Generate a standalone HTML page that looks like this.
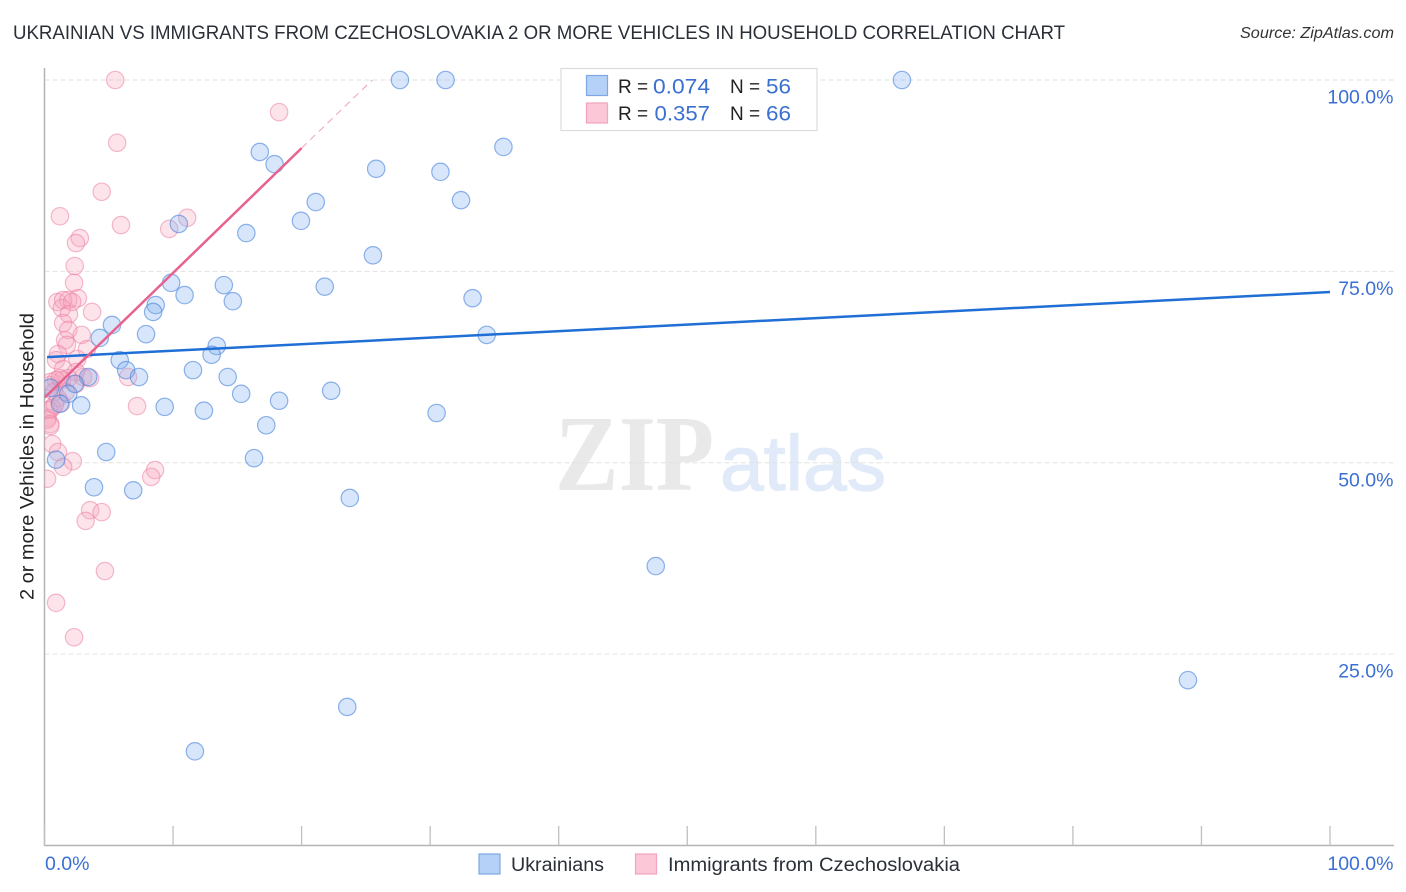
<!DOCTYPE html>
<html lang="en">
<head>
<meta charset="utf-8">
<title>Ukrainian vs Immigrants from Czechoslovakia chart</title>
<style>
html,body{margin:0;padding:0;background:#fff;width:1406px;height:892px;overflow:hidden}
svg{display:block;font-family:"Liberation Sans",sans-serif}
.tick-label{fill:#3b6fd1;font-size:19.5px}
.legend-text{fill:#222;font-size:19px}
.legend-value{fill:#3b6fd1;font-size:21px}
</style>
</head>
<body>
<svg id="chart" width="1406" height="892" viewBox="0 0 1406 892" xmlns="http://www.w3.org/2000/svg">
  <defs>
    <clipPath id="plot-clip"><rect x="44.5" y="60" width="1350" height="786"></rect></clipPath>
  </defs>
  <rect width="1406" height="892" fill="#fff"></rect>
  <text x="13" y="39" font-size="19.5" fill="#2a2f38" textLength="1052" lengthAdjust="spacingAndGlyphs">UKRAINIAN VS IMMIGRANTS FROM CZECHOSLOVAKIA 2 OR MORE VEHICLES IN HOUSEHOLD CORRELATION CHART</text>
  <text x="1394" y="38" font-size="15.5" font-style="italic" fill="#333" text-anchor="end" textLength="154" lengthAdjust="spacingAndGlyphs">Source: ZipAtlas.com</text>
  <text x="555" y="490" font-family="'Liberation Serif',serif" font-size="108" font-weight="bold" fill="#e9e9e9" textLength="159" lengthAdjust="spacingAndGlyphs">ZIP</text>
  <text x="720" y="490" font-size="78" fill="#e1eaf8" stroke="#e1eaf8" stroke-width="1.2" textLength="166" lengthAdjust="spacingAndGlyphs">atlas</text>
  <g id="grid"></g>
  <g id="axes"></g>
  <g id="marks" clip-path="url(#plot-clip)"></g>
  <text transform="translate(33.5,456.5) rotate(-90)" font-size="19.5" fill="#222" text-anchor="middle" textLength="287" lengthAdjust="spacingAndGlyphs">2 or more Vehicles in Household</text>

  <g>
    <rect x="561" y="68.5" width="256" height="62" fill="#fff" stroke="#dcdcdc" stroke-width="1.2"></rect>
    <rect x="586.5" y="75.5" width="21" height="20" fill="#b5d1f7" stroke="#7ea8e3" stroke-width="1.2"></rect>
    <rect x="586.5" y="103" width="21" height="20" fill="#fcc8d8" stroke="#f0a4bd" stroke-width="1.2"></rect>
    <text class="legend-text" x="618" y="93">R =</text>
    <text class="legend-value" x="653" y="93.5" textLength="57" lengthAdjust="spacingAndGlyphs">0.074</text>
    <text class="legend-text" x="730" y="93">N =</text>
    <text class="legend-value" x="766" y="93.5" textLength="25" lengthAdjust="spacingAndGlyphs">56</text>
    <text class="legend-text" x="618" y="120">R =</text>
    <text class="legend-value" x="654.5" y="120.5" textLength="55.5" lengthAdjust="spacingAndGlyphs">0.357</text>
    <text class="legend-text" x="730" y="120">N =</text>
    <text class="legend-value" x="766" y="120.5" textLength="25" lengthAdjust="spacingAndGlyphs">66</text>
  </g>

  <g>
    <rect x="479" y="854" width="21" height="20" fill="#b5d1f7" stroke="#7ea8e3" stroke-width="1.2"></rect>
    <text x="511" y="871" font-size="19" fill="#2a2f38" textLength="93" lengthAdjust="spacingAndGlyphs">Ukrainians</text>
    <rect x="635.5" y="854" width="21" height="20" fill="#fcc8d8" stroke="#f0a4bd" stroke-width="1.2"></rect>
    <text x="668" y="871" font-size="19" fill="#2a2f38" textLength="292" lengthAdjust="spacingAndGlyphs">Immigrants from Czechoslovakia</text>
  </g>
</svg>
<script>
const xTickValues = [0, 10, 20, 30, 40, 50, 60, 70, 80, 90, 100];
const yGridValues = [25, 50, 75, 100];
const yTickLabels = ["25.0%", "50.0%", "75.0%", "100.0%"];
const xTickLabels = ["0.0%", "100.0%"];

const ukrainiansX = [27.65,31.2,66.7,35.7,16.75,17.9,25.8,30.8,32.4,21.1,19.95,10.45,15.7,25.55,9.85,13.95,21.8,10.9,14.65,33.3,8.65,8.45,5.25,7.9,34.4,4.3,13.4,13.0,5.85,6.35,11.55,7.35,14.25,3.4,2.35,15.3,22.3,1.85,18.25,2.85,9.35,12.4,1.2,30.5,17.25,4.8,16.3,0.9,3.85,6.9,23.75,47.55,88.95,23.55,11.7,0.45];
const ukrainiansY = [100,100,100,91.25,90.6,89.0,88.4,88.0,84.3,84.05,81.6,81.2,80.0,77.1,73.5,73.2,73.0,71.9,71.1,71.5,70.6,69.7,68.0,66.8,66.7,66.3,65.25,64.1,63.4,62.1,62.1,61.2,61.2,61.2,60.3,59.0,59.4,59.0,58.1,57.5,57.3,56.8,57.7,56.5,54.9,51.4,50.6,50.4,46.8,46.4,45.4,36.5,21.6,18.1,12.3,59.8];

const immigrantsX = [5.5,18.25,5.65,4.45,1.2,5.95,11.1,9.7,2.75,2.45,2.35,2.3,2.6,1.0,1.45,1.85,2.15,1.35,3.7,1.9,1.45,1.85,2.9,1.6,1.75,3.3,1.05,0.9,2.55,1.45,2.45,6.5,3.0,3.55,1.85,1.35,0.9,0.45,2.45,0.75,1.05,7.2,1.3,0.6,0.35,0.25,0.2,0.45,0.45,0.6,1.05,2.2,1.45,8.6,8.3,0.2,3.55,4.45,3.2,4.7,0.9,2.3,0.45,1.65,0.8,1.2];
const immigrantsY = [100,95.8,91.8,85.4,82.2,81.05,82.0,80.55,79.35,78.7,75.7,73.5,71.5,71.0,71.25,71.25,71.0,70.2,69.7,69.4,68.25,67.35,66.7,66.0,65.4,64.85,64.2,63.4,63.55,62.25,61.85,61.2,61.2,61.05,61.05,60.8,60.8,60.15,60.3,59.25,58.45,57.4,57.8,57.15,56.9,55.85,55.6,55.05,54.8,52.45,51.4,50.2,49.45,49.05,48.15,47.9,43.8,43.55,42.4,35.85,31.7,27.2,60.55,59.25,57.55,61.05];

const ukrainiansTrendX = [0.2, 100];
const ukrainiansTrendY = [63.8, 72.3];
const immigrantsTrendX = [0, 20];
const immigrantsTrendY = [58.5, 91.1];
const immigrantsTrendExtX = [20, 25.5];
const immigrantsTrendExtY = [91.1, 100];

const NS = 'http://www.w3.org/2000/svg';
const xScale = v => 44.5 + v * 12.855;
const yScale = v => 845.5 - v * 7.655;

const grid = document.getElementById('grid');
const axes = document.getElementById('axes');
const marks = document.getElementById('marks');

function make(tag, attrs, parent) {
  const el = document.createElementNS(NS, tag);
  for (const k in attrs) el.setAttribute(k, attrs[k]);
  parent.appendChild(el);
  return el;
}

yGridValues.forEach((v, i) => {
  const line = make('line', {x1: 44.5, x2: 1394, y1: yScale(v), y2: yScale(v), stroke: '#e2e2e2', 'stroke-width': 1, 'stroke-dasharray': '5 3'}, grid);
  
  
  const label = make('text', {x: 1393.5, y: yScale(v) + 23.5, 'text-anchor': 'end', class: 'tick-label'}, axes);
  
  
  label.textContent = yTickLabels[i];
});

const yAxis = make('line', {x1: 44.5, x2: 44.5, y1: 68, y2: 846, stroke: '#b4b4b4', 'stroke-width': 1.5}, axes);


const xAxis = make('line', {x1: 44, x2: 1394, y1: 845.5, y2: 845.5, stroke: '#b4b4b4', 'stroke-width': 1.5}, axes);



xTickValues.forEach(v => {
  const tick = make('line', {x1: xScale(v), x2: xScale(v), y1: 826, y2: 845.5, stroke: '#c0c0c0', 'stroke-width': 1.3}, axes);
  
  
});

const xLabelLeft = make('text', {x: 45, y: 870, class: 'tick-label'}, axes);


xLabelLeft.textContent = xTickLabels[0];
const xLabelRight = make('text', {x: 1393.5, y: 870, 'text-anchor': 'end', class: 'tick-label'}, axes);


xLabelRight.textContent = xTickLabels[1];

immigrantsX.forEach((v, i) => {
  const dot = make('circle', {cx: xScale(v), cy: yScale(immigrantsY[i]), r: 8.7, fill: 'rgba(248,165,190,0.3)', stroke: 'rgba(235,130,165,0.55)', 'stroke-width': 1.2}, marks);
  
  
});

ukrainiansX.forEach((v, i) => {
  const dot = make('circle', {cx: xScale(v), cy: yScale(ukrainiansY[i]), r: 8.7, fill: 'rgba(130,178,240,0.32)', stroke: 'rgba(70,130,220,0.6)', 'stroke-width': 1.2}, marks);
  
  
});

const blueTrend = make('line', {x1: xScale(ukrainiansTrendX[0]), y1: yScale(ukrainiansTrendY[0]), x2: xScale(ukrainiansTrendX[1]), y2: yScale(ukrainiansTrendY[1]), stroke: '#1f6fd6', 'stroke-width': 2.5}, marks);



const pinkTrend = make('line', {x1: xScale(immigrantsTrendX[0]), y1: yScale(immigrantsTrendY[0]), x2: xScale(immigrantsTrendX[1]), y2: yScale(immigrantsTrendY[1]), stroke: '#e8628f', 'stroke-width': 2.5}, marks);



const pinkExt = make('line', {x1: xScale(immigrantsTrendExtX[0]), y1: yScale(immigrantsTrendExtY[0]), x2: xScale(immigrantsTrendExtX[1]), y2: yScale(immigrantsTrendExtY[1]), stroke: '#f0a0bc', 'stroke-width': 1, 'stroke-dasharray': '7 5'}, marks);


</script>
</body>
</html>
